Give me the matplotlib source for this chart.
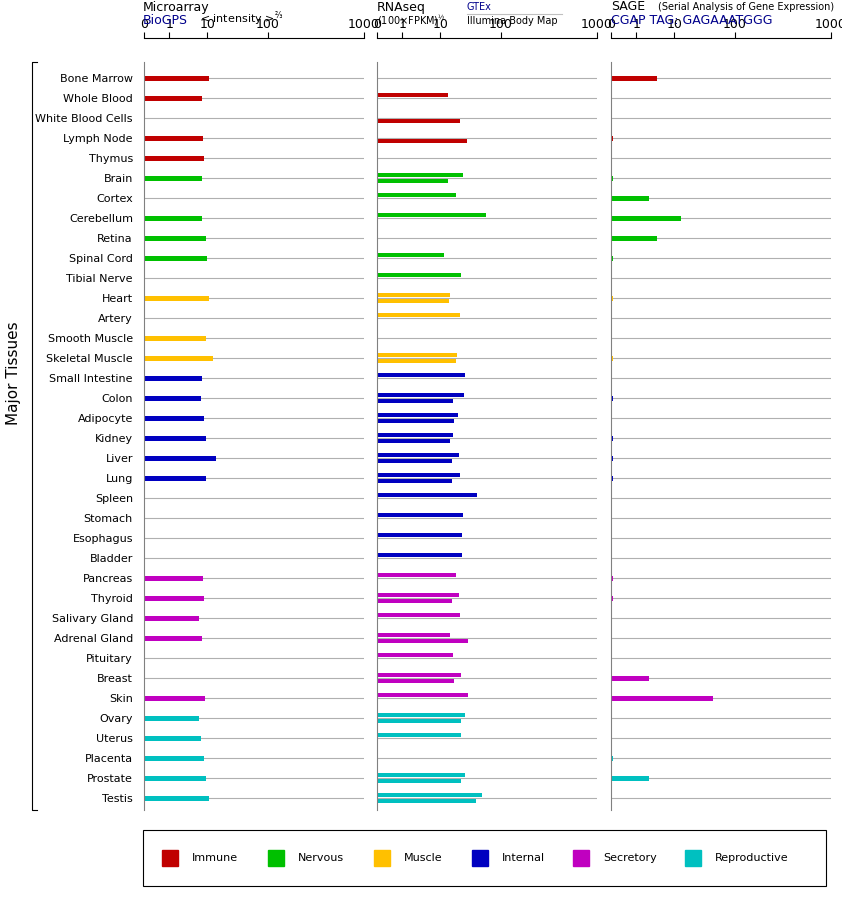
import numpy as np
import matplotlib
matplotlib.use("Agg")
import matplotlib.pyplot as plt
from matplotlib.patches import Rectangle

tissues = ["Bone Marrow", "Whole Blood", "White Blood Cells", "Lymph Node", "Thymus",
           "Brain", "Cortex", "Cerebellum", "Retina", "Spinal Cord", "Tibial Nerve",
           "Heart", "Artery", "Smooth Muscle", "Skeletal Muscle",
           "Small Intestine", "Colon", "Adipocyte", "Kidney", "Liver", "Lung", "Spleen",
           "Stomach", "Esophagus", "Bladder",
           "Pancreas", "Thyroid", "Salivary Gland", "Adrenal Gland", "Pituitary", "Breast", "Skin",
           "Ovary", "Uterus", "Placenta", "Prostate", "Testis"]
groups = ["Immune"] * 5 + ["Nervous"] * 6 + ["Muscle"] * 4 + ["Internal"] * 10 + \
         ["Secretory"] * 7 + ["Reproductive"] * 5
group_names = ["Immune", "Nervous", "Muscle", "Internal", "Secretory", "Reproductive"]
group_colors = ["#c00000", "#00c000", "#ffc000", "#0000c0", "#c000c0", "#00c0c0"]

microarray = [10.8, 7.3, 0, 7.7, 8.2,
              7.3, 0, 7.3, 9.4, 10, 0,
              10.8, 0, 9.4, 12.2,
              7.3, 6.8, 8.2, 9.4, 13.8, 9.4, 0, 0, 0, 0,
              7.7, 8.2, 6.0, 7.3, 0, 0, 8.8,
              6.0, 6.8, 8.2, 9.4, 10.8]
gtex = [0, 13.3, 0, 0, 0,
        23.7, 17.8, 56, 0, 11.3, 21.8,
        14.6, 21, 0, 18.5,
        25.7, 24.6, 19.3, 16.4, 20, 21, 40, 23.7, 22.7, 22.7,
        17.8, 20, 21, 14.6, 16.4, 21.8, 29,
        25.7, 21.8, 0, 25.7, 48]
body_map = [0, 0, 21, 28, 0,
            13.3, 0, 0, 0, 0, 0,
            14, 0, 0, 17.8,
            0, 16.4, 17, 14.6, 15.7, 15.7, 0, 0, 0, 0,
            0, 15.7, 0, 29, 0, 17, 0,
            21.8, 0, 0, 21.8, 39]
sage = [3.5, 0, 0, 0.08, 0,
        0.08, 2.1, 12.7, 3.5, 0.08, 0,
        0.08, 0, 0, 0.08,
        0, 0.08, 0, 0.08, 0.08, 0.08, 0, 0, 0, 0,
        0.08, 0.08, 0, 0, 0, 2.1, 43,
        0, 0, 0.08, 2.1, 0]

ticks = [0, 1, 10, 100, 1000]
tick_pos = [0, 24, 60, 117, 208]


def fwd(v):
    v = np.asarray(v, dtype=float)
    lv = np.log10(np.clip(v, 1, None))
    out = np.interp(lv, [0, 1, 2, 3], tick_pos[1:])
    return np.where(v < 1, v * tick_pos[1], out)


def inv(p):
    p = np.asarray(p, dtype=float)
    out = 10 ** np.interp(p, tick_pos[1:], [0, 1, 2, 3])
    return np.where(p < tick_pos[1], p / tick_pos[1], out)


W, H = 842, 900
fig = plt.figure(figsize=(W / 100, H / 100), dpi=100)
colors = [group_colors[group_names.index(g)] for g in groups]
n = len(tissues)
y = np.arange(n)


def make_panel(x0):
    ax = fig.add_axes([x0 / W, 1 - 810 / H, 220 / W, 748 / H])
    ax.set_xscale("function", functions=(fwd, inv))
    ax.set_xlim(0, inv(220))
    ax.set_ylim(36.6, -0.8)
    for yy in y:
        ax.axhline(yy, color="#b0b0b0", lw=0.8, zorder=0)
    for s in ["right", "bottom"]:
        ax.spines[s].set_visible(False)
    ax.spines["left"].set_color("#808080")
    ax.spines["top"].set_position(("outward", 24 * 0.72))
    ax.xaxis.tick_top()
    ax.set_xticks(ticks)
    ax.set_xticklabels([str(t) for t in ticks], fontsize=9)
    ax.xaxis.set_minor_locator(matplotlib.ticker.NullLocator())
    ax.tick_params(axis="x", length=4, pad=1)
    ax.set_yticks([])
    return ax


ax1 = make_panel(144)
ax1.barh(y, microarray, height=0.25, color=colors)
ax1.set_yticks(y)
ax1.set_yticklabels(tissues, fontsize=8)
ax1.tick_params(axis="y", length=0, pad=8)

ax2 = make_panel(377)
ax2.barh(y - 0.15, gtex, height=0.17, color=colors)
ax2.barh(y + 0.15, body_map, height=0.17, color=colors)

ax3 = make_panel(611)
ax3.barh(y, sage, height=0.25, color=colors)


def t(x, yy, s, **kw):
    fig.text(x / W, 1 - yy / H, s, va="center", **kw)


t(143, 7, "Microarray", fontsize=9)
t(143, 20, "BioGPS", fontsize=9, color="#00008b")
t(200, 19, r"< intensity >$^{⅔}$", fontsize=8)
t(377, 7, "RNAseq", fontsize=9)
t(377, 20, "(100×FPKM)$^{½}$", fontsize=7)
t(467, 7, "GTEx", fontsize=7, color="#00008b")
fig.add_artist(plt.Line2D([467 / W, 562 / W], [1 - 14 / H] * 2, color="#c0c0c0", lw=0.8))
t(467, 21, "Illumina Body Map", fontsize=7)
t(611, 7, "SAGE", fontsize=9)
t(658, 7, "(Serial Analysis of Gene Expression)", fontsize=7)
t(611, 20, "CGAP TAG: GAGAAATGGG", fontsize=9, color="#00008b")

# bracket
fig.add_artist(plt.Line2D([37 / W, 32 / W, 32 / W, 37 / W],
                          [1 - 62 / H, 1 - 62 / H, 1 - 810 / H, 1 - 810 / H], color="black", lw=0.8))
t(14, 373, "Major Tissues", fontsize=11, rotation=90, ha="center")

# legend
fig.add_artist(Rectangle((143 / W, 1 - 886 / H), 683 / W, 56 / H, transform=fig.transFigure,
                         fill=False, ec="black", lw=0.8))
lx = [162, 268, 374, 472, 573, 685]
for x, name, c in zip(lx, group_names, group_colors):
    fig.add_artist(Rectangle((x / W, 1 - 866 / H), 16 / W, 16 / H, transform=fig.transFigure,
                             color=c))
    t(x + 30, 858, name, fontsize=8)

fig.savefig("out.png", dpi=100)
